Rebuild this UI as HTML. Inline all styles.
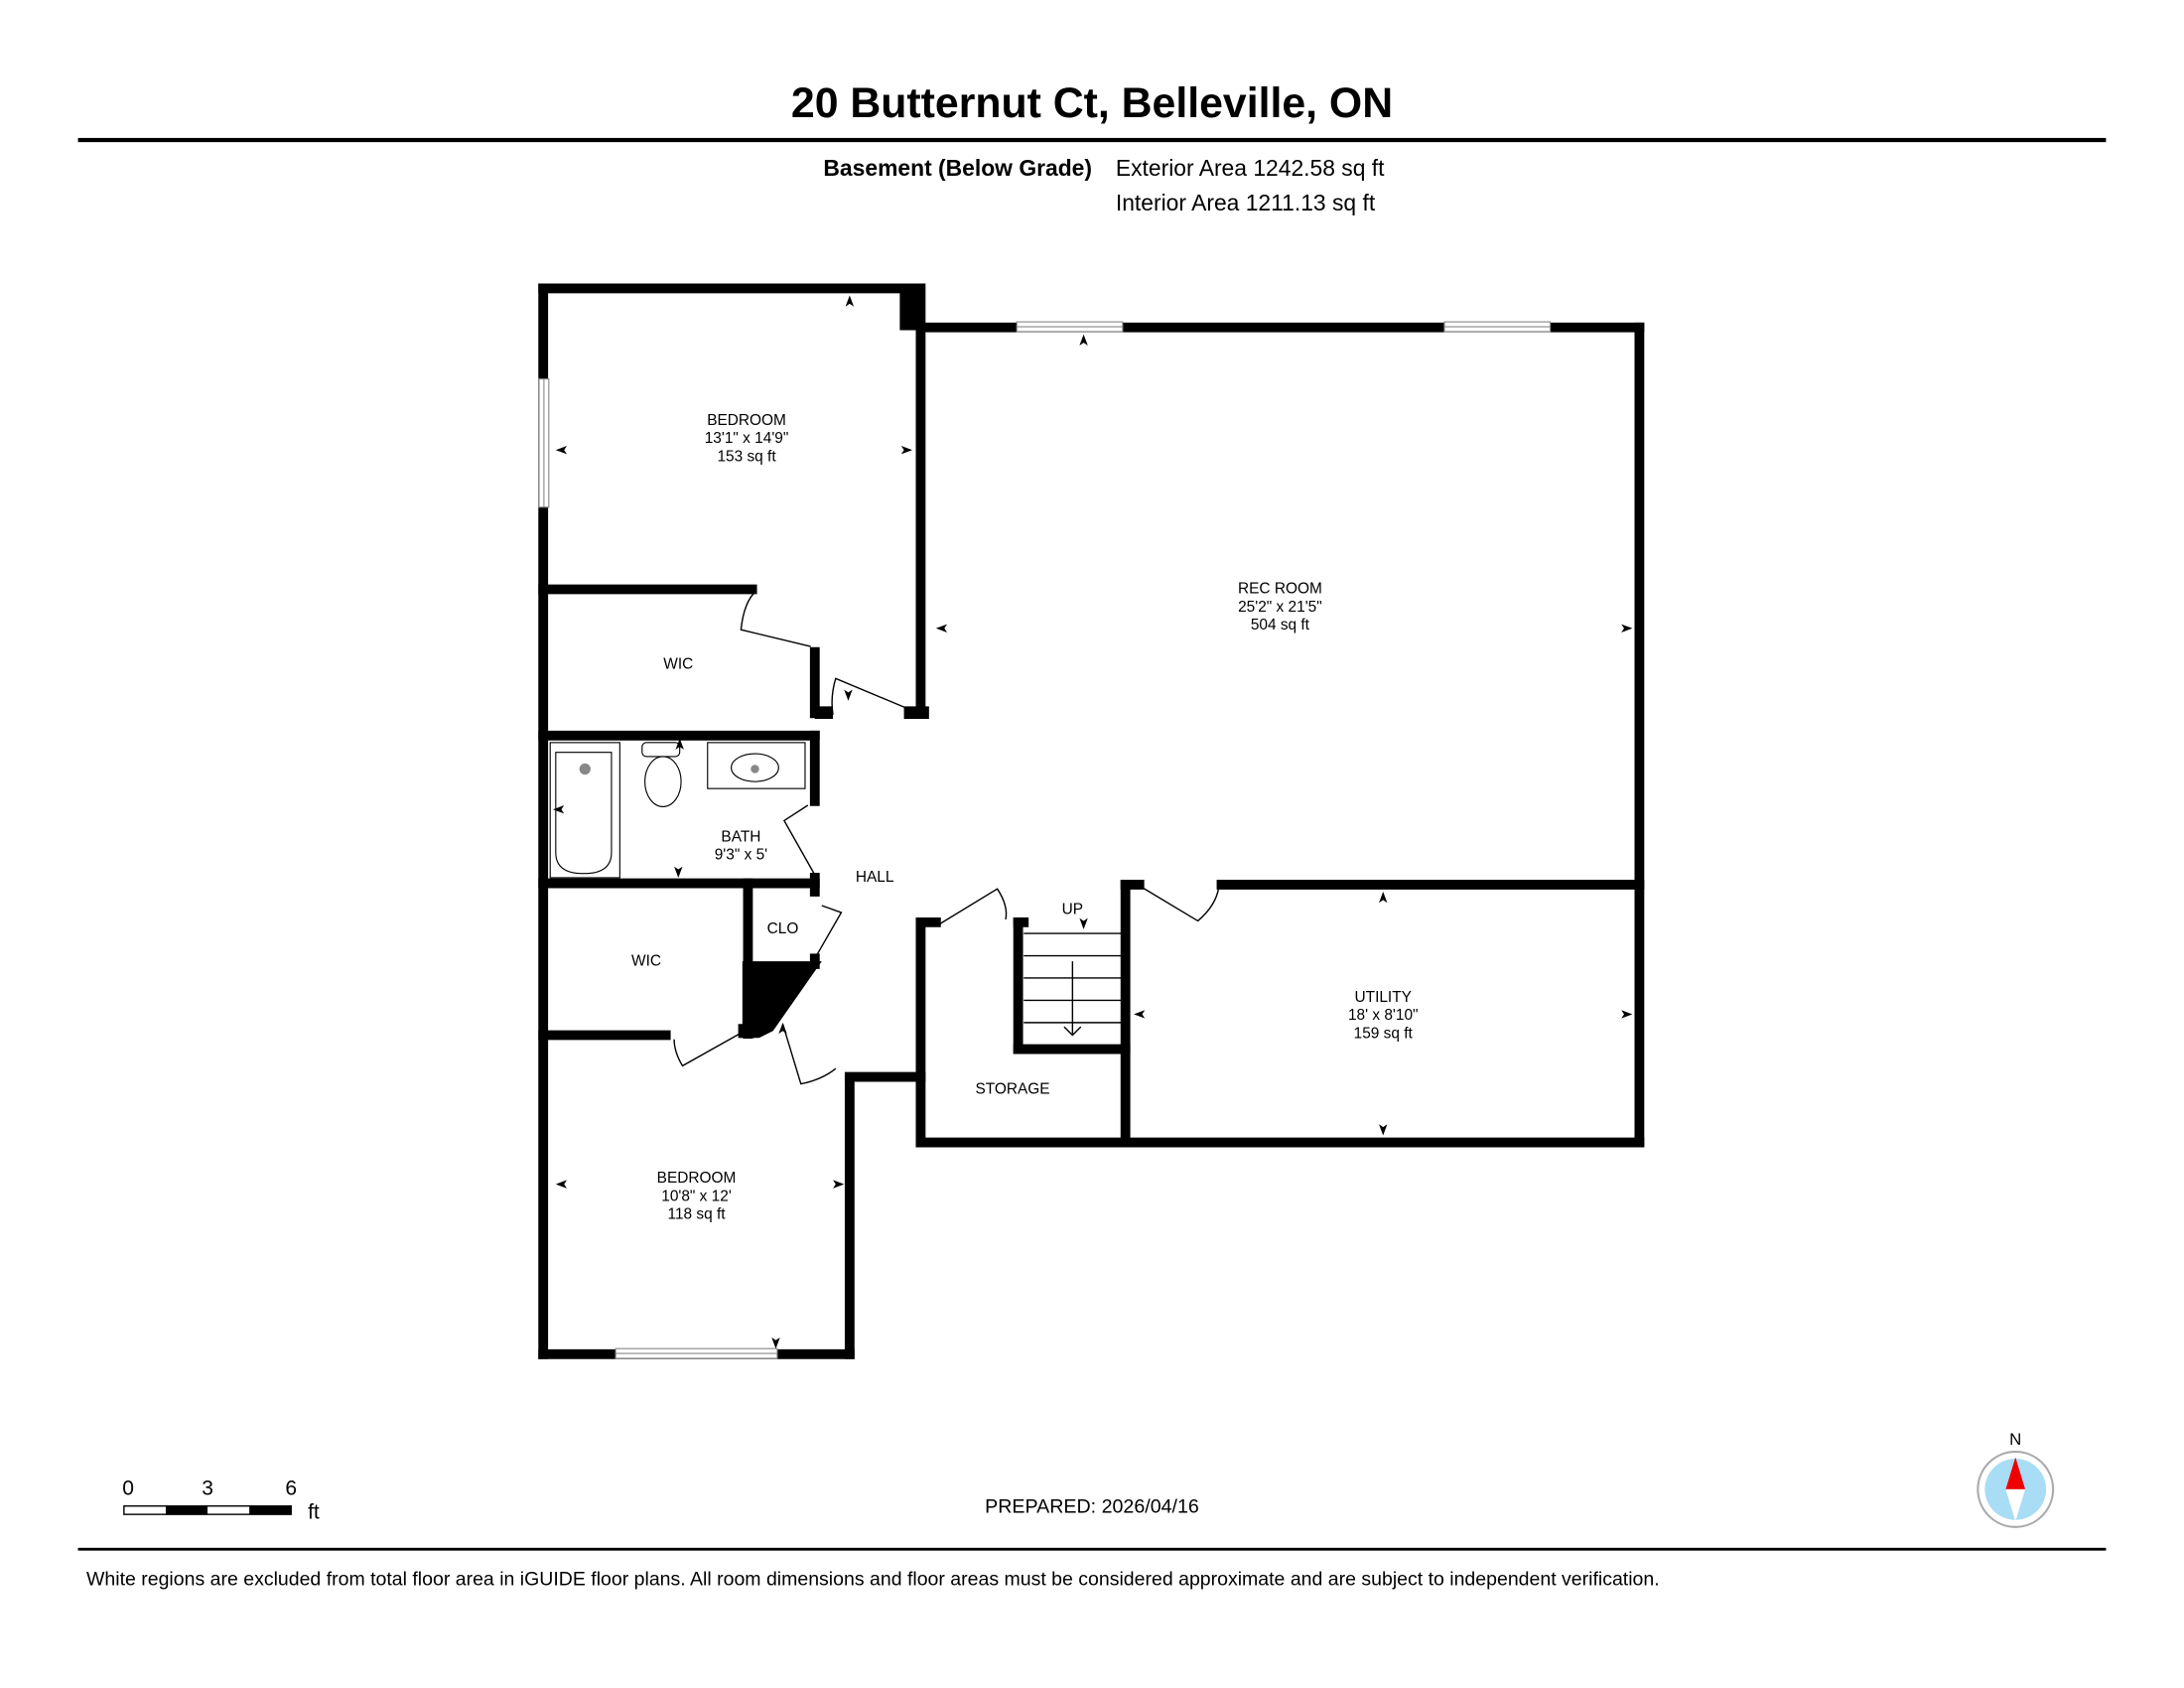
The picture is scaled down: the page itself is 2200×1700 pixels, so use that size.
<!DOCTYPE html>
<html><head><meta charset="utf-8"><style>
html,body{margin:0;padding:0;background:#fff;}
svg{display:block;}
text{font-family:"Liberation Sans",Arial,sans-serif;fill:#000;}
</style></head><body>
<svg width="2200" height="1700" viewBox="0 0 1568 1211.6" xmlns="http://www.w3.org/2000/svg">
<rect width="1568" height="1212" fill="#fff"/>
<text x="784" y="84" text-anchor="middle" font-size="30.5" font-weight="bold">20 Butternut Ct, Belleville, ON</text>
<rect x="56" y="99" width="1456" height="3" fill="#000"/>
<text x="784" y="126" text-anchor="end" font-size="16.3" font-weight="bold">Basement (Below Grade)</text>
<text x="801" y="126" font-size="16.3">Exterior Area 1242.58 sq ft</text>
<text x="801" y="151" font-size="16.3">Interior Area 1211.13 sq ft</text>

<g stroke="#000" stroke-width="7" stroke-linecap="square" fill="none">
<line x1="390" y1="207" x2="390" y2="972"/>
<line x1="390" y1="207" x2="660" y2="207"/>
<line x1="661" y1="207" x2="661" y2="512"/>
<line x1="661" y1="235" x2="1177" y2="235"/>
<line x1="1177" y1="235" x2="1177" y2="820"/>
<line x1="661" y1="820" x2="1177" y2="820"/>
<line x1="390" y1="423" x2="540" y2="423"/>
<line x1="585" y1="468" x2="585" y2="512"/>
<line x1="390" y1="528" x2="585" y2="528"/>
<line x1="585" y1="528" x2="585" y2="575"/>
<line x1="585" y1="630" x2="585" y2="640"/>
<line x1="390" y1="634" x2="585" y2="634"/>
<line x1="537" y1="634" x2="537" y2="742"/>
<line x1="585" y1="688" x2="585" y2="692"/>
<line x1="390" y1="743" x2="478" y2="743"/>
<line x1="390" y1="972" x2="610" y2="972"/>
<line x1="610" y1="775" x2="610" y2="972"/>
<line x1="610" y1="773" x2="661" y2="773"/>
<line x1="661" y1="662" x2="661" y2="820"/>
<line x1="661" y1="662" x2="672" y2="662"/>
<line x1="808" y1="635" x2="808" y2="820"/>
<line x1="808" y1="635" x2="818" y2="635"/>
<line x1="877" y1="635" x2="1177" y2="635"/>
<line x1="731" y1="662" x2="731" y2="753"/>
<line x1="731" y1="662" x2="735" y2="662"/>
<line x1="731" y1="753" x2="808" y2="753"/>
</g>
<rect x="646" y="205" width="18" height="32" fill="#000"/>
<rect x="649" y="507" width="18" height="9" fill="#000"/>
<rect x="585" y="507" width="13" height="9" fill="#000"/>
<polygon points="533,690 590,690 555,740 545,745 533,745" fill="#000"/>
<rect x="530" y="735" width="12" height="10" fill="#000"/>
<g fill="#fff" stroke="#888" stroke-width="0.8">
<rect x="730" y="231" width="76" height="7"/><line x1="730" y1="234.5" x2="806" y2="234.5"/>
<rect x="1037" y="231" width="76" height="7"/><line x1="1037" y1="234.5" x2="1113" y2="234.5"/>
<rect x="387" y="272" width="7" height="92"/><line x1="390.5" y1="272" x2="390.5" y2="364"/>
<rect x="442" y="968" width="116" height="7"/><line x1="442" y1="971.5" x2="558" y2="971.5"/>
</g>
<g stroke="#000" stroke-width="1" fill="none">
<path d="M582,464 L532,452 Q534,432 543,424"/>
<path d="M655,510 L600,487 Q596,500 598,513"/>
<path d="M580,578 L563,589 L585,628"/>
<path d="M590,650 L604,655 L585,688"/>
<path d="M531,742 L490,765 Q484,755 484,746"/>
<path d="M562,735 L575,778 Q590,775 600,767"/>
<path d="M675,663 L716,638 Q724,650 722,660"/>
<path d="M820,637 L860,661 Q873,650 875,637"/>
</g>
<g stroke="#000" stroke-width="1" fill="none">
<line x1="735" y1="670" x2="805" y2="670"/><line x1="735" y1="686" x2="805" y2="686"/>
<line x1="735" y1="702" x2="805" y2="702"/><line x1="735" y1="718" x2="805" y2="718"/>
<line x1="735" y1="734" x2="805" y2="734"/>
<line x1="770" y1="690" x2="770" y2="743"/><path d="M764,737 L770,743 L776,737"/>
</g>
<g stroke="#000" stroke-width="0.8" fill="none">
<rect x="395" y="533" width="50" height="97"/>
<path d="M399,540 h40 v72 q0,15 -20,15 q-20,0 -20,-15 z"/>
<rect x="508" y="533" width="70" height="33"/>
<ellipse cx="542" cy="551" rx="17" ry="10"/>
<ellipse cx="476" cy="561" rx="13" ry="18"/>
<rect x="461" y="533" width="27" height="10" rx="3"/>
</g>
<circle cx="420" cy="552" r="4" fill="#888"/><circle cx="542" cy="552" r="3" fill="#888"/>
<g fill="#000">
<path d="M610,212 l-3,8 l3,-2 l3,2z"/><path d="M399,323 l8,-3 l-2,3 l2,3z"/><path d="M655,323 l-8,-3 l2,3 l-2,3z"/>
<path d="M778,240 l-3,8 l3,-2 l3,2z"/><path d="M672,451 l8,-3 l-2,3 l2,3z"/><path d="M1172,451 l-8,-3 l2,3 l-2,3z"/>
<path d="M609,503 l-3,-8 l3,2 l3,-2z"/><path d="M488,530 l-3,8 l3,-2 l3,2z"/><path d="M397,581 l8,-3 l-2,3 l2,3z"/>
<path d="M487,630 l-3,-8 l3,2 l3,-2z"/><path d="M993,640 l-3,8 l3,-2 l3,2z"/><path d="M814,728 l8,-3 l-2,3 l2,3z"/>
<path d="M1172,728 l-8,-3 l2,3 l-2,3z"/><path d="M993,815 l-3,-8 l3,2 l3,-2z"/><path d="M778,667 l-3,-8 l3,2 l3,-2z"/>
<path d="M399,850 l8,-3 l-2,3 l2,3z"/><path d="M606,850 l-8,-3 l2,3 l-2,3z"/><path d="M557,968 l-3,-8 l3,2 l3,-2z"/>
<path d="M562,734 l-3,8 l3,-2 l3,2z"/>
</g>
<g font-size="11" text-anchor="middle">
<text x="536" y="305">BEDROOM</text><text x="536" y="318">13'1" x 14'9"</text><text x="536" y="331">153 sq ft</text>
<text x="919" y="426">REC ROOM</text><text x="919" y="439">25'2" x 21'5"</text><text x="919" y="452">504 sq ft</text>
<text x="487" y="480">WIC</text>
<text x="532" y="604">BATH</text><text x="532" y="617">9'3" x 5'</text>
<text x="628" y="633">HALL</text><text x="562" y="670">CLO</text><text x="770" y="656">UP</text>
<text x="464" y="693">WIC</text>
<text x="993" y="719">UTILITY</text><text x="993" y="732">18' x 8'10"</text><text x="993" y="745">159 sq ft</text>
<text x="727" y="785">STORAGE</text>
<text x="500" y="849">BEDROOM</text><text x="500" y="862">10'8" x 12'</text><text x="500" y="875">118 sq ft</text>
</g>
<text x="92" y="1073" font-size="15" text-anchor="middle">0</text>
<text x="149" y="1073" font-size="15" text-anchor="middle">3</text>
<text x="209" y="1073" font-size="15" text-anchor="middle">6</text>
<text x="221" y="1090" font-size="15">ft</text>
<rect x="89" y="1081" width="120" height="6" fill="#fff" stroke="#000" stroke-width="1"/>
<rect x="119" y="1081" width="30" height="6" fill="#000"/><rect x="179" y="1081" width="30" height="6" fill="#000"/>
<text x="784" y="1086" font-size="14" text-anchor="middle">PREPARED: 2026/04/16</text>
<text x="1447" y="1037" font-size="12" text-anchor="middle">N</text>
<circle cx="1447" cy="1069" r="27" fill="#fff" stroke="#aaa" stroke-width="1.5"/>
<circle cx="1447" cy="1069" r="22" fill="#a9dcf5"/>
<polygon points="1447,1046 1440,1069 1454,1069" fill="#e00"/>
<polygon points="1447,1092 1440,1069 1454,1069" fill="#fff"/>
<rect x="56" y="1111" width="1456" height="2" fill="#000"/>
<text x="62" y="1138" font-size="13.9">White regions are excluded from total floor area in iGUIDE floor plans. All room dimensions and floor areas must be considered approximate and are subject to independent verification.</text>
</svg>
</body></html>
